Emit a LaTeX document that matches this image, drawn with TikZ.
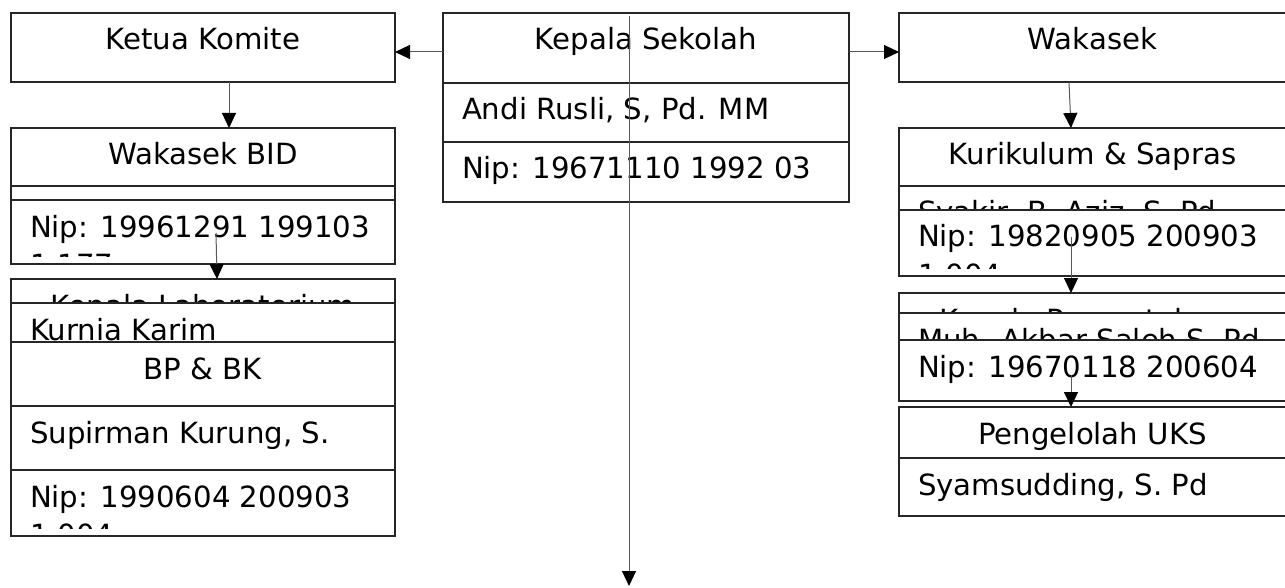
\documentclass[tikz,border=0pt]{standalone}
\usepackage{fontspec}
\setmainfont{DejaVu Sans}
\usetikzlibrary{arrows.meta}
\tikzset{
  cellbox/.style={draw=black!85, line width=1.1pt, fill=white, inner sep=0pt, outer sep=0pt},
  celltext/.style={font=\fontsize{29.2}{35}\selectfont, inner sep=0pt, outer sep=0pt, text=black},
  arr/.style={draw=black!65, line width=1pt, -{Triangle[length=15pt,width=14pt,color=black]}},
}
% header cell: name, x, y, w, h, text (centred)
\newcommand{\hcell}[6]{%
  \node[cellbox, minimum width=#4pt, minimum height=#5pt, anchor=north west] (#1) at (#2,#3) {};
  \begin{scope}
    \clip (#2,#3) rectangle ++(#4,#5-8);
    \node[celltext, anchor=base] (#1-t) at (#2+#4/2,#3+37) {#6};
  \end{scope}}
% left-aligned cell: name, x, y, w, h, line 1, line 2
\newcommand{\lcell}[7]{%
  \node[cellbox, minimum width=#4pt, minimum height=#5pt, anchor=north west] (#1) at (#2,#3) {};
  \begin{scope}
    \clip (#2,#3) rectangle ++(#4,#5-8);
    \def\mytmp{#6}\ifx\mytmp\empty\else
      \node[celltext, anchor=base west] (#1-t) at (#2+19,#3+37) {#6};\fi
    \def\mytmp{#7}\ifx\mytmp\empty\else
      \node[celltext, anchor=base west] (#1-u) at (#2+19,#3+75) {#7};\fi
  \end{scope}}
\begin{document}
\begin{tikzpicture}[x=1pt,y=-1pt]
\useasboundingbox (0,0) rectangle (1285,588);
% left column
\hcell{ketua}{11}{13}{384}{69}{Ketua Komite}
\hcell{bidhead}{11}{128}{384}{58}{Wakasek BID}
\lcell{bidname}{11}{186}{384}{60}{}{}
\lcell{bidnip}{11}{200}{384}{64}{Nip: 19961291 199103}{1 177}
\hcell{labhead}{11}{279}{384}{84}{Kepala Laboratorium}
\lcell{labname}{11}{303}{384}{60}{Kurnia Karim}{}
\hcell{bphead}{11}{342}{384}{64}{BP \& BK}
\lcell{bpname}{11}{406}{384}{64}{Supirman Kurung, S.}{}
\lcell{bpnip}{11}{470}{384}{66}{Nip: 1990604 200903}{1 004}
% centre column
\hcell{kephead}{443}{13}{406}{70}{Kepala Sekolah}
\lcell{kepname}{443}{83}{406}{59}{Andi Rusli, S, Pd. MM}{}
\lcell{kepnip}{443}{142}{406}{60}{Nip: 19671110 1992 03}{}
% right column
\hcell{wakasek}{899}{13}{387}{69}{Wakasek}
\hcell{kurhead}{899}{128}{387}{58}{Kurikulum \& Sapras}
\lcell{kurname}{899}{186}{387}{60}{Syakir, B. Aziz, S. Pd}{}
\lcell{kurnip}{899}{210}{387}{66}{Nip: 19820905 200903}{1 004}
\hcell{perhead}{899}{293}{387}{60}{Kepala Perpustakaan}
\lcell{pername}{899}{313}{387}{40}{Muh. Akbar Saleh S. Pd}{}
\lcell{pernip}{899}{340}{387}{61}{Nip: 19670118 200604}{}
\hcell{ukshead}{899}{407}{387}{51}{Pengelolah UKS}
\lcell{uksname}{899}{458}{387}{58}{Syamsudding, S. Pd}{}
% connectors
\coordinate (down) at (629,586);
\draw[arr] ([yshift=-4pt]kephead.west) -- ([yshift=-4.5pt]ketua.east);
\draw[arr] ([yshift=-4pt]kephead.east) -- ([yshift=-4.5pt]wakasek.west);
\draw[arr] ([xshift=-17pt,yshift=-3pt]kephead.north) -- (down);
\draw[arr] ([xshift=26pt]ketua.south) -- ([xshift=26pt]bidhead.north);
\draw[arr] ([xshift=13pt,yshift=-1pt]bidnip.center) -- ([xshift=14pt]labhead.north);
\draw[arr] ([xshift=-23.5pt]wakasek.south) -- ([xshift=-21.5pt]kurhead.north);
\draw[arr] ([xshift=-21.5pt,yshift=6pt]kurnip.center) -- ([xshift=-21.5pt]perhead.north);
\draw[arr] ([xshift=-21.5pt,yshift=-4.5pt]pernip.center) -- ([xshift=-21.5pt]ukshead.north);
\end{tikzpicture}
\end{document}
